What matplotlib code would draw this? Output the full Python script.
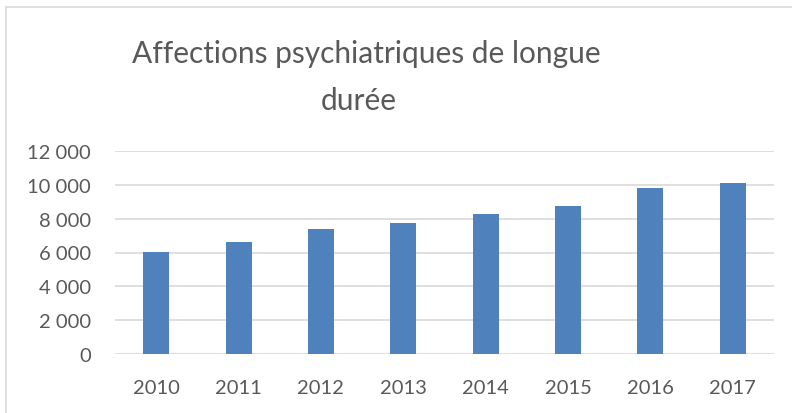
import matplotlib.pyplot as plt
from matplotlib.patches import Rectangle
from matplotlib.ticker import FuncFormatter

years = ['2010', '2011', '2012', '2013', '2014', '2015', '2016', '2017']
values = [6040, 6630, 7400, 7760, 8290, 8770, 9800, 10100]
y_ticks = [0, 2000, 4000, 6000, 8000, 10000, 12000]

plt.rcParams['font.family'] = ['Lato', 'DejaVu Sans']

fig = plt.figure(figsize=(7.92, 4.14), dpi=100)
ax = fig.add_axes([115 / 792, 59 / 414, 659 / 792, 203 / 414])

ax.bar(range(len(years)), values, width=0.316, color='#4F81BD', zorder=3)

ax.set_xlim(-0.5, len(years) - 0.5)
ax.set_ylim(0, 12000)
ax.set_yticks(y_ticks)
ax.yaxis.set_major_formatter(FuncFormatter(lambda v, p: f'{int(v):,}'.replace(',', ' ')))
ax.set_xticks(range(len(years)))
ax.set_xticklabels(years)
ax.grid(axis='y', color='#D9D9D9', linewidth=1.2, zorder=0)
ax.tick_params(length=0, labelsize=14.5, colors='#595959')
ax.tick_params(axis='y', pad=17.3)
ax.tick_params(axis='x', pad=18)
for s in ax.spines.values():
    s.set_visible(False)

# title, two lines as in the original
fig.text(366 / 792, 1 - 63 / 414, 'Affections psychiatriques de longue',
         ha='center', va='baseline', fontsize=21.5, color='#595959')
fig.text(359 / 792, 1 - 110 / 414, 'durée',
         ha='center', va='baseline', fontsize=21.5, color='#595959')

# chart frame
fig.patches.append(Rectangle((6 / 792, -0.1), 1.2, 1 - 8 / 414 + 0.1,
                             transform=fig.transFigure, fill=False,
                             edgecolor='#D9D9D9', linewidth=1.2))

fig.savefig('out.png', dpi=100)
